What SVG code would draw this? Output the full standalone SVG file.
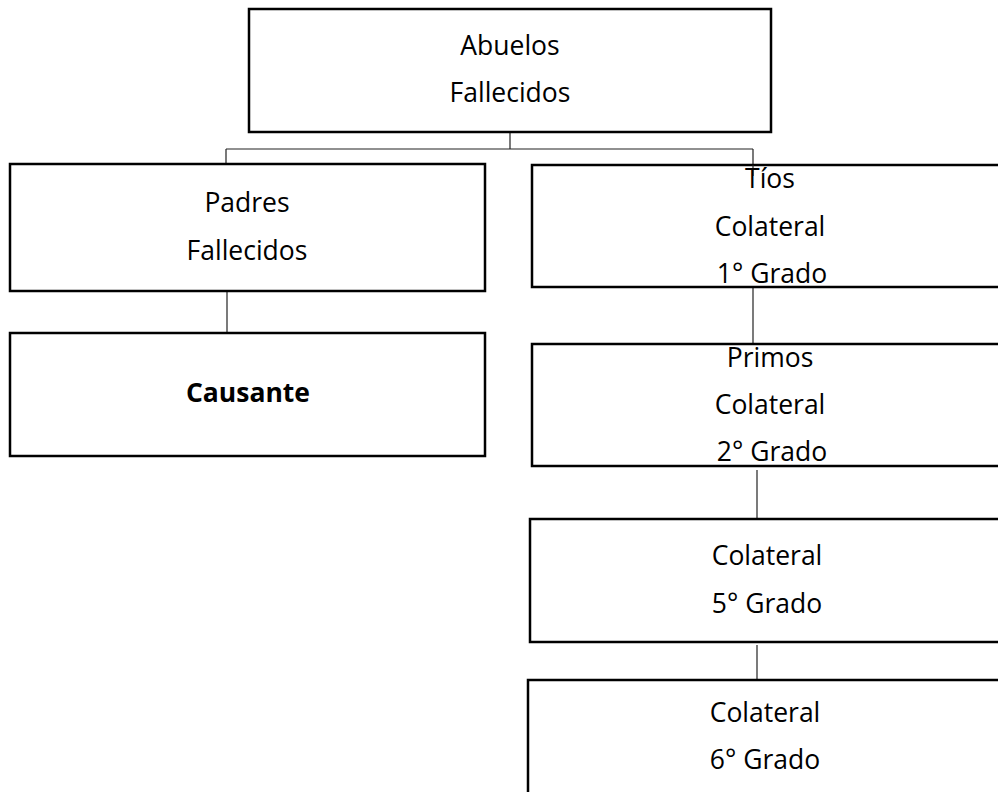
<svg xmlns="http://www.w3.org/2000/svg" width="998" height="792" viewBox="0 0 998 792">
<style>
.box{fill:#fff;stroke:#000;stroke-width:2.5}
.c{fill:none;stroke:#222;stroke-width:1.2}
text{font-family:"Open Sans","Liberation Sans",sans-serif;font-size:26.5px;fill:#000;text-anchor:middle}
.b{font-weight:bold}
</style>
<rect width="998" height="792" fill="#fff"/>
<g id="connectors">
<path class="c" d="M510 132V149M226 149H753M226 149V164M753 149V176"/>
<path class="c" d="M227 291V333"/>
<path class="c" d="M753 288V344"/>
<path class="c" d="M757 470V519"/>
<path class="c" d="M757 645V680"/>
</g>
<g id="abuelos">
<rect class="box" x="249" y="9" width="522" height="123"/>
<text x="510" y="55">Abuelos</text>
<text x="510" y="102">Fallecidos</text>
</g>
<g id="padres">
<rect class="box" x="10" y="164" width="475" height="127"/>
<text x="247" y="212">Padres</text>
<text x="247" y="260">Fallecidos</text>
</g>
<g id="causante">
<rect class="box" x="10" y="333" width="475" height="123"/>
<text class="b" x="248" y="402">Causante</text>
</g>
<g id="tios">
<rect class="box" x="532" y="165" width="480" height="122"/>
<path class="c" d="M753 165V176"/>
<text x="770" y="188">Tíos</text>
<text x="770" y="236">Colateral</text>
<text x="772" y="283">1° Grado</text>
</g>
<g id="primos">
<rect class="box" x="532" y="344" width="480" height="122"/>
<text x="770" y="367">Primos</text>
<text x="770" y="414">Colateral</text>
<text x="772" y="461">2° Grado</text>
</g>
<g id="colateral5">
<rect class="box" x="530" y="519" width="482" height="123"/>
<text x="767" y="565">Colateral</text>
<text x="767" y="613">5° Grado</text>
</g>
<g id="colateral6">
<rect class="box" x="528" y="680" width="484" height="130"/>
<text x="765" y="722">Colateral</text>
<text x="765" y="769">6° Grado</text>
</g>
</svg>
